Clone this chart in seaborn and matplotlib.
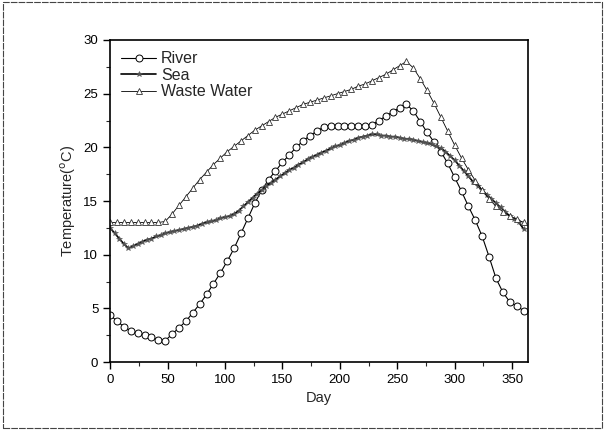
import numpy as np
import pandas as pd
import seaborn as sns
from matplotlib import pyplot as plt
from matplotlib.patches import Rectangle
from matplotlib.ticker import MultipleLocator

# days sampled for river / waste water (every 6 days) and sea (every 4 days)
days_6 = np.arange(0, 361, 6)
days_4 = np.arange(0, 361, 4)

river = [4.4, 3.8, 3.3, 2.9, 2.7, 2.5, 2.3, 2.1, 2.0, 2.6,
         3.2, 3.8, 4.6, 5.4, 6.3, 7.3, 8.3, 9.4, 10.6, 12.0,
         13.4, 14.8, 16.0, 17.0, 17.8, 18.6, 19.3, 20.0, 20.6, 21.1,
         21.5, 21.9, 22.0, 22.0, 22.0, 22.0, 22.0, 22.0, 22.1, 22.5,
         22.9, 23.3, 23.7, 24.0, 23.4, 22.4, 21.4, 20.5, 19.6, 18.5,
         17.2, 15.9, 14.5, 13.2, 11.7, 9.8, 7.8, 6.5, 5.6, 5.2,
         4.8]

waste_water = [13.0, 13.0, 13.0, 13.0, 13.0, 13.0, 13.0, 13.0, 13.1, 13.8,
               14.6, 15.4, 16.2, 17.0, 17.7, 18.4, 19.0, 19.6, 20.1, 20.6,
               21.1, 21.6, 22.0, 22.4, 22.8, 23.1, 23.4, 23.7, 24.0, 24.2,
               24.4, 24.6, 24.8, 25.0, 25.2, 25.4, 25.7, 25.9, 26.2, 26.5,
               26.8, 27.2, 27.6, 28.0, 27.4, 26.4, 25.3, 24.1, 22.8, 21.5,
               20.2, 19.0, 17.9, 16.9, 16.0, 15.2, 14.5, 14.0, 13.6, 13.3,
               13.0]

sea = [12.5, 12.0, 11.5, 11.0, 10.6, 10.8, 11.0, 11.2, 11.4, 11.5,
       11.7, 11.8, 12.0, 12.1, 12.2, 12.3, 12.4, 12.5, 12.6, 12.7,
       12.9, 13.0, 13.1, 13.2, 13.4, 13.5, 13.6, 13.8, 14.1, 14.5,
       14.9, 15.3, 15.7, 16.0, 16.4, 16.7, 17.0, 17.3, 17.6, 17.9,
       18.1, 18.4, 18.6, 18.9, 19.1, 19.3, 19.5, 19.7, 19.9, 20.1,
       20.2, 20.4, 20.6, 20.7, 20.9, 21.0, 21.1, 21.2, 21.2, 21.1,
       21.1, 21.0, 21.0, 20.9, 20.8, 20.8, 20.7, 20.6, 20.5, 20.4,
       20.3, 20.1, 19.9, 19.6, 19.2, 18.8, 18.3, 17.8, 17.3, 16.8,
       16.4, 16.0, 15.6, 15.2, 14.8, 14.4, 14.0, 13.6, 13.3, 13.0,
       12.4]

sns.set_style("ticks")
plt.rcParams['font.family'] = ['Liberation Sans', 'DejaVu Sans']

fig = plt.figure(figsize=(6.05, 4.30), dpi=100)
ax = fig.add_axes([0.182, 0.158, 0.691, 0.749])

sns.lineplot(x=days_6, y=river, ax=ax, color='black', lw=0.8,
             marker='o', markersize=5, markerfacecolor='white',
             markeredgecolor='black', markeredgewidth=0.7, label='River')
sns.lineplot(x=days_4, y=sea, ax=ax, color='black', lw=1.2,
             marker='*', markersize=4, markerfacecolor='#555555',
             markeredgecolor='#555555', markeredgewidth=0.4, label='Sea')
sns.lineplot(x=days_6, y=waste_water, ax=ax, color='black', lw=0.6,
             marker='^', markersize=5, markerfacecolor='white',
             markeredgecolor='#333333', markeredgewidth=0.6, label='Waste Water')

ax.set_xlim(0, 364)
ax.set_ylim(0, 30)
ax.xaxis.set_major_locator(MultipleLocator(50))
ax.xaxis.set_minor_locator(MultipleLocator(25))
ax.yaxis.set_major_locator(MultipleLocator(5))
ax.yaxis.set_minor_locator(MultipleLocator(2.5))
ax.tick_params(which='major', direction='out', length=5, width=1, labelsize=9.5, colors='black')
ax.tick_params(which='minor', direction='out', length=3, width=0.8)
for s in ax.spines.values():
    s.set_visible(True)
    s.set_linewidth(1.2)
    s.set_color('black')

ax.set_xlabel('Day', fontsize=10.5)
ax.set_ylabel('Temperature($^{\\rm o}$C)', fontsize=10.5)

ax.legend(loc='upper left', frameon=False, fontsize=11.5, handlelength=2.2,
          handletextpad=0.3, labelspacing=0.1, borderaxespad=0.3,
          bbox_to_anchor=(0.0, 1.0))

fig.patches.append(Rectangle((0.005, 0.005), 0.99, 0.99, transform=fig.transFigure,
                             fill=False, edgecolor='#444444', lw=0.8, ls=(0, (6, 1))))

fig.savefig('out.png', dpi=100)
